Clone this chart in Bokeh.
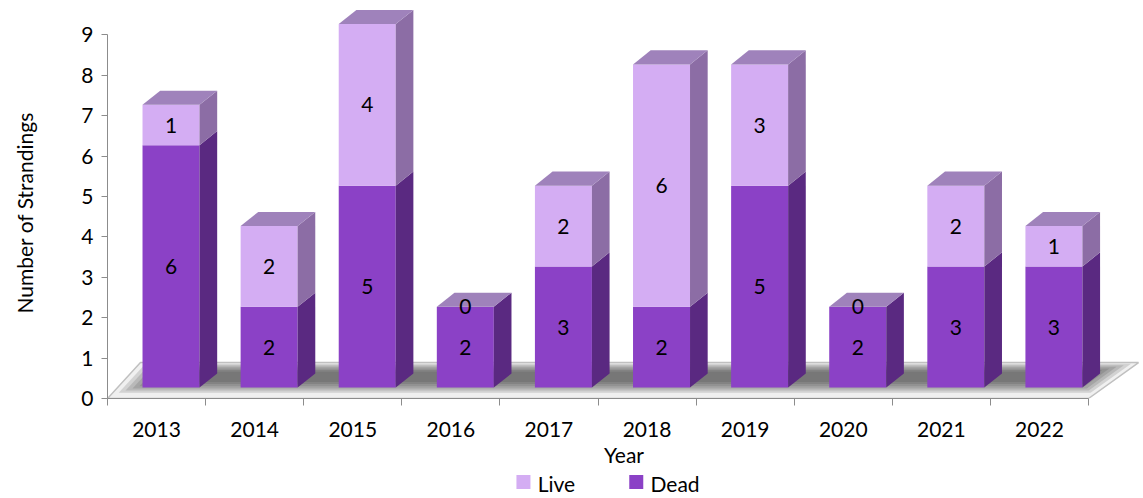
from bokeh.plotting import figure
from bokeh.layouts import column
from bokeh.models import Range1d, FixedTicker
from bokeh.core.properties import value
from bokeh.embed import file_html
from bokeh.resources import INLINE

# ---- data ----
years = ["2013", "2014", "2015", "2016", "2017", "2018", "2019", "2020", "2021", "2022"]
dead = [6, 2, 5, 2, 3, 2, 5, 2, 3, 3]
live = [1, 2, 4, 0, 2, 6, 3, 0, 2, 1]
y_ticks = [0, 1, 2, 3, 4, 5, 6, 7, 8, 9]
series_names = ["Live", "Dead"]

# ---- style / geometry constants ----
FONT = "Lato"
FS = "21px"
DEAD_FRONT, DEAD_SIDE = "#8B41C6", "#5A2981"
LIVE_FRONT, LIVE_SIDE = "#D4ADF3", "#8C6DA5"
TOP_COL = "#9F82BB"
AXIS_COL = "#8c8c8c"
BAR_OFF, BAR_W = 0.357, 0.581
BASE = 0.27
DX, DY = 0.18, 0.35
FLOOR = [(0.0, 0.0), (10.0, 0.0), (10.51, 0.89), (0.336, 0.89)]
W = 1143
H_MAIN = 469
H_LEG = 29
LEG_SWATCH_X = [4.24, 5.39]
LEG_TEXT_DX = 0.145

n = len(years)
xr = Range1d(0, 10.53)
p = figure(width=W, height=H_MAIN, output_backend="svg", toolbar_location=None,
           x_range=xr, y_range=Range1d(0, 9.73),
           min_border_left=107, min_border_right=3, min_border_top=5,
           min_border_bottom=H_MAIN - 399, outline_line_color=None)
p.xgrid.visible = False
p.ygrid.visible = False
p.background_fill_color = "white"
p.border_fill_color = "white"

# ---- floor ----
def fpt(u, v):
    (ax, ay), (bx, by), (cx, cy), (dx_, dy_) = FLOOR
    x = ax*(1-u)*(1-v) + bx*u*(1-v) + cx*u*v + dx_*(1-u)*v
    y = ay*(1-u)*(1-v) + by*u*(1-v) + cy*u*v + dy_*(1-u)*v
    return x, y

def fquad(u0, u1, v0, v1):
    pts = [fpt(u0, v0), fpt(u1, v0), fpt(u1, v1), fpt(u0, v1)]
    return [q[0] for q in pts], [q[1] for q in pts]

fx, fy = fquad(0, 1, 0, 1)
p.patch(fx, fy, fill_color="#f0f0f0", line_color="#c0c0c0", line_width=1.5)
for k in range(6):
    sx, sy = fquad(0.006 + 0.005*k, 0.994 - 0.005*k, 0.16 + 0.06*k, 0.97 - 0.045*k)
    p.patch(sx, sy, fill_color="#3a3a3a", fill_alpha=0.16, line_color=None)

# ---- bars ----
x0 = [i + BAR_OFF for i in range(n)]
x1 = [i + BAR_OFF + BAR_W for i in range(n)]
d_top = [BASE + d for d in dead]
l_top = [BASE + d + l for d, l in zip(dead, live)]
base = [BASE] * n

def side(xr_, yb, yt):
    return [xr_, xr_ + DX, xr_ + DX, xr_], [yb, yb + DY, yt + DY, yt]

ds_x, ds_y, ls_x, ls_y, tp_x, tp_y = [], [], [], [], [], []
for i in range(n):
    a, b = side(x1[i], base[i], d_top[i]); ds_x.append(a); ds_y.append(b)
    a, b = side(x1[i], d_top[i], l_top[i]); ls_x.append(a); ls_y.append(b)
    t = l_top[i]
    tp_x.append([x0[i], x1[i], x1[i] + DX, x0[i] + DX])
    tp_y.append([t, t, t + DY, t + DY])

p.quad(left=x0, right=x1, bottom=base, top=d_top, fill_color=DEAD_FRONT, line_color=None)
p.quad(left=x0, right=x1, bottom=d_top, top=l_top, fill_color=LIVE_FRONT, line_color=None)
p.patches(ds_x, ds_y, fill_color=DEAD_SIDE, line_color=None)
p.patches(ls_x, ls_y, fill_color=LIVE_SIDE, line_color=None)
p.patches(tp_x, tp_y, fill_color=TOP_COL, line_color=None)

# ---- value labels ----
cx = [(a + b) / 2 for a, b in zip(x0, x1)]
p.text(x=cx, y=[(b + t) / 2 for b, t in zip(base, d_top)], text=[str(v) for v in dead],
       text_align="center", text_baseline="middle", text_font=value(FONT),
       text_font_size=value(FS), text_color="black")
p.text(x=cx, y=[(b + t) / 2 for b, t in zip(d_top, l_top)], text=[str(v) for v in live],
       text_align="center", text_baseline="middle", text_font=value(FONT),
       text_font_size=value(FS), text_color="black")

# ---- axes ----
ya = p.yaxis[0]
ya.ticker = FixedTicker(ticks=y_ticks)
ya.bounds = (0, 9)
ya.axis_line_color = AXIS_COL
ya.major_tick_line_color = AXIS_COL
ya.major_tick_out = 6
ya.major_tick_in = 0
ya.minor_tick_line_color = None
ya.major_label_text_font = FONT
ya.major_label_text_font_size = FS
ya.major_label_text_color = "black"
ya.major_label_standoff = 8
ya.axis_label = "Number of Strandings" + "\u00a0" * 4
ya.axis_label_text_font = FONT
ya.axis_label_text_font_size = FS
ya.axis_label_text_font_style = "normal"
ya.axis_label_text_color = "black"
ya.axis_label_standoff = 41

xa = p.xaxis[0]
centers = [i + 0.5 for i in range(n)]
xa.ticker = FixedTicker(ticks=centers, minor_ticks=list(range(n + 1)))
xa.major_label_overrides = {c: y for c, y in zip(centers, years)}
xa.bounds = (0, n)
xa.axis_line_color = AXIS_COL
xa.major_tick_line_color = None
xa.minor_tick_line_color = AXIS_COL
xa.minor_tick_out = 7
xa.minor_tick_in = 0
xa.major_label_text_font = FONT
xa.major_label_text_font_size = FS
xa.major_label_text_color = "black"
xa.major_label_standoff = 16
xa.axis_label = "Year"
xa.axis_label_text_font = FONT
xa.axis_label_text_font_size = FS
xa.axis_label_text_font_style = "normal"
xa.axis_label_text_color = "black"
xa.axis_label_standoff = 2

# ---- bottom strip: legend ----
p2 = figure(width=W, height=H_LEG, output_backend="svg", toolbar_location=None,
            x_range=xr, y_range=Range1d(H_LEG, 0),
            x_axis_type=None, y_axis_type=None, outline_line_color=None,
            min_border=0, min_border_left=107, min_border_right=3,
            min_border_top=0, min_border_bottom=0)
p2.background_fill_color = "white"
p2.border_fill_color = "white"
leg_cols = [LIVE_FRONT, DEAD_FRONT]
p2.rect(x=LEG_SWATCH_X, y=[12.5, 12.5], width=14, height=14, width_units="screen",
        height_units="screen", fill_color=leg_cols, line_color=None)
p2.text(x=[x + LEG_TEXT_DX for x in LEG_SWATCH_X], y=[13.5, 13.5], text=series_names,
        text_align="left", text_baseline="middle", text_font=value(FONT),
        text_font_size=value(FS), text_color="black")

layout = column(p, p2, spacing=0)
open("out.html", "w").write(file_html(layout, INLINE))
